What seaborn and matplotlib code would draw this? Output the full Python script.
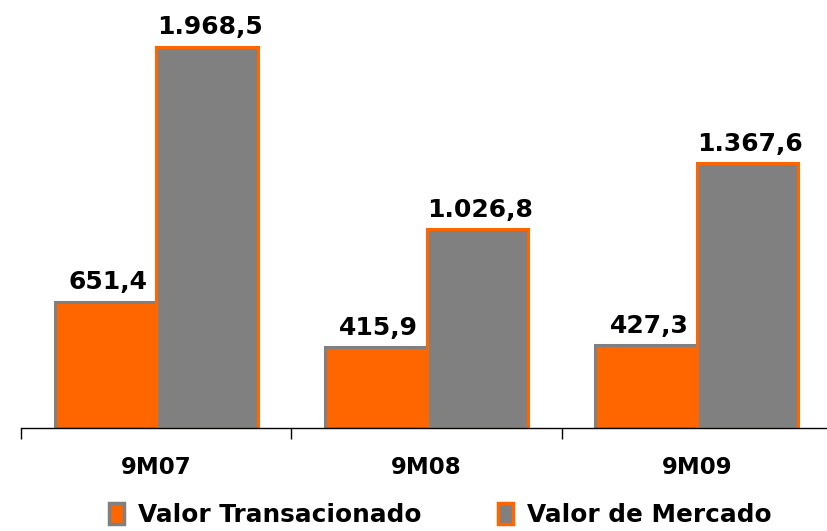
import seaborn as sns
import matplotlib.pyplot as plt
import pandas as pd
from matplotlib.patches import Patch

periods = ['9M07', '9M08', '9M09']
valor_transacionado = [651.4, 415.9, 427.3]
valor_mercado = [1968.5, 1026.8, 1367.6]
series = ['Valor Transacionado', 'Valor de Mercado']

orange = '#FF6600'
gray = '#808080'

df = pd.DataFrame({
    'periodo': periods * 2,
    'serie': [series[0]] * 3 + [series[1]] * 3,
    'valor': valor_transacionado + valor_mercado,
})


def br(v):
    return f'{v:,.1f}'.replace(',', 'X').replace('.', ',').replace('X', '.')


sns.set_style('white')
plt.rcParams['font.family'] = ['DejaVu Sans']
plt.rcParams['text.color'] = 'black'
plt.rcParams['xtick.color'] = 'black'

fig = plt.figure(figsize=(8.27, 5.31), dpi=100)
ax = fig.add_axes([21 / 827, 1 - 428 / 531, 811 / 827, 428 / 531])

sns.barplot(data=df, x='periodo', y='valor', hue='serie', palette=[orange, gray],
            saturation=1, width=0.75, ax=ax, legend=False)

edges = [gray, orange]
for cont, ec in zip(ax.containers, edges):
    for bar in cont:
        bar.set_edgecolor(ec)
        bar.set_linewidth(2.2)
        bar.set_zorder(3)
    for bar in cont:
        h = bar.get_height()
        ax.annotate(br(h), xy=(bar.get_x() + bar.get_width() / 2, h),
                    xytext=(2, 9), textcoords='offset points', color='black',
                    ha='center', va='baseline', fontsize=18, fontweight='heavy')

ax.set_xlim(-0.5, 2.5)
ax.set_ylim(0, 2211)
ax.set_xlabel('')
ax.set_ylabel('')
ax.set_yticks([])
for s in ['top', 'right', 'left']:
    ax.spines[s].set_visible(False)
ax.spines['bottom'].set_color('black')
ax.spines['bottom'].set_linewidth(1.0)
ax.spines['bottom'].set_zorder(4)

ax.set_xticks([0, 1, 2])
ax.set_xticklabels(periods, fontsize=16.5, fontweight='heavy', color='black')
ax.tick_params(axis='x', which='major', length=0, pad=20)
ax.set_xticks([-0.5, 0.5, 1.5], minor=True)
ax.tick_params(axis='x', which='minor', bottom=True, length=8, width=1,
               color='black', direction='out')

handles = [Patch(facecolor=orange, edgecolor=gray, linewidth=2.5),
           Patch(facecolor=gray, edgecolor=orange, linewidth=2.5)]
leg = fig.legend(handles, series, loc='center', bbox_to_anchor=(0.532, 0.03), ncol=2,
                 frameon=False, handlelength=0.62, handleheight=0.9,
                 handletextpad=0.55, columnspacing=3.1,
                 prop={'size': 17.8, 'weight': 'heavy'})
for t in leg.get_texts():
    t.set_color('black')

fig.savefig('out.png', dpi=100)
